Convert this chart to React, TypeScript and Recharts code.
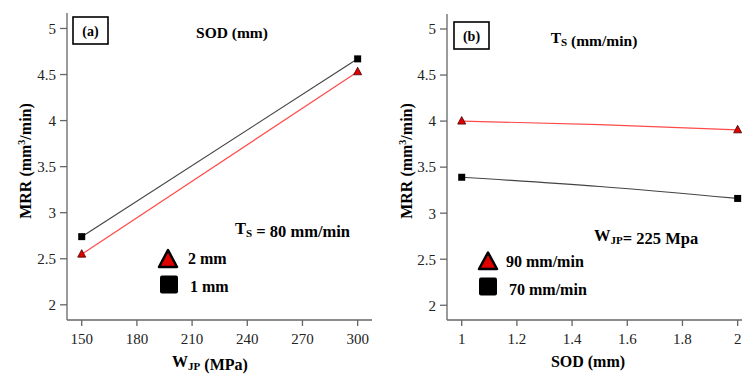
import { LineChart, Line, XAxis, YAxis, ReferenceArea } from "recharts";

// panel (a): MRR vs W_JP, one line per SOD level
const wjp = [150, 300];
const sod2mm = [2.55, 4.53];
const sod1mm = [2.74, 4.67];
const wjpTicks = [150, 180, 210, 240, 270, 300];

// panel (b): MRR vs SOD, one line per traverse speed (fitted curve, mid point has no marker)
const sod = [1, 1.5, 2];
const ts90 = [4.0, 3.962, 3.905];
const ts70 = [3.39, 3.29, 3.16];
const sodTicks = [1, 1.2, 1.4, 1.6, 1.8, 2];

const mrrTicks = [2, 2.5, 3, 3.5, 4, 4.5, 5];

const dataA = wjp.map((w, i) => ({ x: w, red: sod2mm[i], black: sod1mm[i] }));
const dataB = sod.map((s, i) => ({ x: s, red: ts90[i], black: ts70[i] }));

const FONT = "'Liberation Serif', 'Times New Roman', serif";
const AXIS = "#666";
const tickStyle = { fontSize: 15, fill: "#222", fontFamily: FONT };

const markPoints = [1, 2, 150, 300];

function squareDot(props: any) {
  const { cx, cy, payload, index } = props;
  if (cx == null || !markPoints.includes(payload.x)) return <g key={"s" + index} />;
  return <rect key={"s" + index} x={cx - 3.5} y={cy - 3.5} width={7} height={7} fill="#000" />;
}

function triangleDot(props: any) {
  const { cx, cy, payload, index } = props;
  if (cx == null || !markPoints.includes(payload.x)) return <g key={"t" + index} />;
  const p = `${cx},${cy - 4.5} ${cx + 4},${cy + 3} ${cx - 4},${cy + 3}`;
  return <polygon key={"t" + index} points={p} fill="#e00000" stroke="#400" strokeWidth={0.8} />;
}

function Panel({ data, xDomain, xTicks, yDomain, top }: any) {
  return (
    <LineChart
      width={380}
      height={374}
      data={data}
      margin={{ top, right: 8, left: 0, bottom: 24 }}
    >
      <XAxis
        dataKey="x"
        type="number"
        domain={xDomain}
        ticks={xTicks}
        allowDataOverflow
        height={30}
        tickSize={6}
        tickMargin={7}
        stroke={AXIS}
        strokeWidth={1.3}
        tick={tickStyle}
      />
      <YAxis
        type="number"
        domain={yDomain}
        ticks={mrrTicks}
        allowDataOverflow
        width={67}
        tickSize={7}
        tickMargin={4}
        stroke={AXIS}
        strokeWidth={1.3}
        tick={tickStyle}
      />
      <ReferenceArea fill="none" stroke={AXIS} strokeWidth={1.3} ifOverflow="visible" />
      <Line
        dataKey="black"
        type="monotone"
        stroke="#444"
        strokeWidth={1.2}
        dot={squareDot}
        activeDot={false}
        isAnimationActive={false}
      />
      <Line
        dataKey="red"
        type="monotone"
        stroke="#ff4a4a"
        strokeWidth={1.2}
        dot={triangleDot}
        activeDot={false}
        isAnimationActive={false}
      />
    </LineChart>
  );
}

function Sub({ s }: { s: string }) {
  return (
    <>
      <tspan dy={3} fontSize={11}>
        {s}
      </tspan>
      <tspan dy={-3}></tspan>
    </>
  );
}

function Overlay() {
  const t = { fontFamily: FONT, fontWeight: 700, fill: "#000" } as const;
  return (
    <svg
      width={742}
      height={374}
      style={{ position: "absolute", left: 0, top: 0, pointerEvents: "none" }}
    >
      {/* panel a */}
      <rect x={73} y={17} width={35} height={27} fill="#fff" stroke="#000" strokeWidth={1.6} />
      <text {...t} x={90.5} y={36} fontSize={14} textAnchor="middle">(a)</text>
      <text {...t} x={232} y={38} fontSize={15.5} textAnchor="middle">SOD (mm)</text>
      <text {...t} x={31} y={161} fontSize={16} textAnchor="middle" transform="rotate(-90 31 161)">
        MRR (mm<tspan dy={-6} fontSize={10}>3</tspan><tspan dy={6}>/min)</tspan>
      </text>
      <text {...t} x={210} y={367} fontSize={16} textAnchor="middle">
        W<Sub s="JP" /> (MPa)
      </text>
      <text {...t} x={235} y={234} fontSize={16.5}>
        T<Sub s="S" /> =  80 mm/min
      </text>
      <polygon points="168,250 177,267 159,267" fill="#e00000" stroke="#000" strokeWidth={2.5} strokeLinejoin="round" />
      <text {...t} x={188} y={264} fontSize={16}>2 mm</text>
      <rect x={160} y={275.5} width={18} height={18} rx={2} fill="#000" />
      <text {...t} x={190} y={292} fontSize={16}>1 mm</text>

      {/* panel b */}
      <rect x={454} y={22} width={35} height={27} fill="#fff" stroke="#000" strokeWidth={1.6} />
      <text {...t} x={471.5} y={41} fontSize={14} textAnchor="middle">(b)</text>
      <text {...t} x={594} y={43} fontSize={15.5} textAnchor="middle">
        T<Sub s="S" /> (mm/min)
      </text>
      <text {...t} x={412} y={161} fontSize={16} textAnchor="middle" transform="rotate(-90 412 161)">
        MRR (mm<tspan dy={-6} fontSize={10}>3</tspan><tspan dy={6}>/min)</tspan>
      </text>
      <text {...t} x={588} y={367} fontSize={16} textAnchor="middle">SOD (mm)</text>
      <text {...t} x={594} y={241} fontSize={16.5}>
        W<Sub s="JP" />=  225 Mpa
      </text>
      <polygon points="488,252.5 497,269 479,269" fill="#e00000" stroke="#000" strokeWidth={2.5} strokeLinejoin="round" />
      <text {...t} x={506} y={267} fontSize={16}>90 mm/min</text>
      <rect x={479} y={277.5} width={18} height={18} rx={2} fill="#000" />
      <text {...t} x={509} y={295} fontSize={16}>70 mm/min</text>
    </svg>
  );
}

export default function App() {
  return (
    <div
      style={{
        position: "absolute",
        left: 0,
        top: 0,
        width: 742,
        height: 374,
        overflow: "hidden",
        background: "#fff",
      }}
    >
      <div style={{ position: "absolute", left: 0, top: 0 }}>
        <Panel data={dataA} xDomain={[142, 307.8]} xTicks={wjpTicks} yDomain={[1.835, 5.168]} top={13} />
      </div>
      <div style={{ position: "absolute", left: 380, top: 0 }}>
        <Panel data={dataB} xDomain={[0.9467, 2.052]} xTicks={sodTicks} yDomain={[1.84, 5.163]} top={14} />
      </div>
      <Overlay />
    </div>
  );
}
